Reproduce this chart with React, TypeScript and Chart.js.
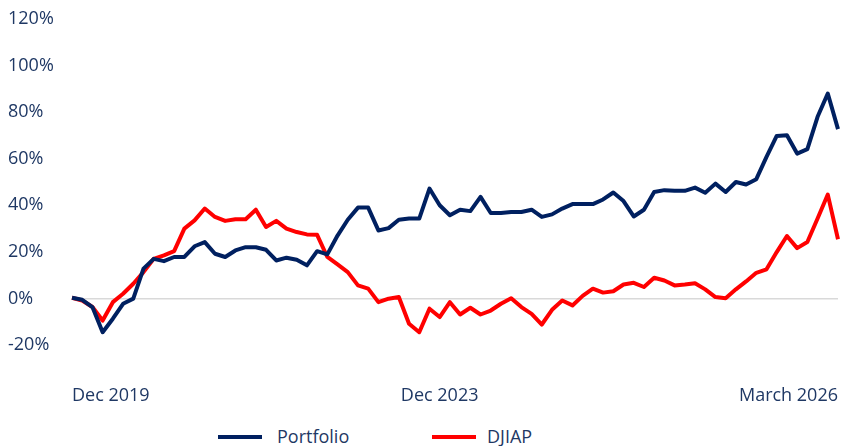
import React, { useEffect, useRef } from "react";
import { Chart, registerables } from "chart.js";

Chart.register(...registerables);

const seriesNames = ["Portfolio", "DJIAP"];
const seriesColors = ["#002060", "#ff0000"];

const portfolio = [
  0.3, -0.6, -3.7, -14.5, -8.7, -2.3, -0.1, 12.8, 17, 16, 17.8, 17.8, 22.4, 24.2, 19.2, 17.8,
  20.6, 22, 22, 20.9, 16.3, 17.5, 16.6, 14.2, 20.3, 18.9, 27, 33.8, 39, 39, 29.2, 30.2,
  33.8, 34.3, 34.3, 47.2, 40, 35.7, 38.1, 37.5, 43.6, 36.7, 36.7, 37.1, 37.1, 38.1, 35, 36.1,
  38.6, 40.5, 40.5, 40.5, 42.5, 45.5, 41.8, 35.2, 38.1, 45.7, 46.5, 46.2, 46.2, 47.6, 45.4, 49.3,
  45.7, 50, 48.9, 51.2, 60.8, 69.8, 70.1, 62.2, 64.1, 78, 88, 72.7,
];

const djiap = [
  0.3, -0.9, -3.7, -9.5, -1.6, 2, 6.3, 11.3, 17, 18.5, 20.3, 30, 33.5, 38.6, 35, 33.3,
  34, 34, 38.1, 30.7, 33.3, 30, 28.5, 27.5, 27.3, 17.8, 14.6, 11.3, 5.6, 4.2, -1.6, -0.1,
  0.6, -10.9, -14.5, -4.4, -8, -1.6, -6.9, -4, -6.9, -5.2, -2.3, 0.1, -3.7, -6.6, -11.2, -4.9,
  -0.9, -3, 1.1, 4.2, 2.5, 3.1, 6, 6.7, 4.9, 8.9, 7.7, 5.6, 6, 6.5, 3.9, 0.6,
  0.1, 3.9, 7.3, 11, 12.5, 19.9, 26.8, 21.6, 24.2, 34.3, 44.6, 25.4,
];

const xTickIndex = [0, 36, 75];
const xTickLabels = ["Dec 2019", "Dec 2023", "March 2026"];
const yTicks = [-20, 0, 20, 40, 60, 80, 100, 120];

const FONT = "'Open Sans', sans-serif";
const TEXT = "#1f3864";

export default function App() {
  const ref = useRef<HTMLCanvasElement | null>(null);

  useEffect(() => {
    if (!ref.current) return;
    const labels = portfolio.map((_, i) => {
      const k = xTickIndex.indexOf(i);
      return k >= 0 ? xTickLabels[k] : "";
    });
    const chart = new Chart(ref.current, {
      type: "line",
      data: {
        labels,
        datasets: [
          { label: seriesNames[0], data: portfolio, borderColor: seriesColors[0], backgroundColor: seriesColors[0] },
          { label: seriesNames[1], data: djiap, borderColor: seriesColors[1], backgroundColor: seriesColors[1] },
        ].map((d) => ({
          ...d,
          borderWidth: 4,
          pointRadius: 0,
          tension: 0,
          borderJoinStyle: "round" as const,
          fill: false,
        })),
      },
      options: {
        animation: false,
        responsive: false,
        maintainAspectRatio: false,
        layout: { padding: { left: 8, right: 8, top: 19, bottom: 0 } },
        plugins: { legend: { display: false }, tooltip: { enabled: false } },
        scales: {
          x: {
            offset: false,
            grid: { display: false, drawTicks: false },
            border: { display: false },
            ticks: {
              autoSkip: false,
              maxRotation: 0,
              minRotation: 0,
              align: "inner",
              padding: 40,
              color: TEXT,
              font: { family: FONT, size: 18 },
              callback: (_v: any, i: number) => labels[i],
            },
            afterFit: (s: any) => {
              s.height = 75;
              s.paddingLeft = 0;
              s.paddingRight = 0;
            },
          },
          y: {
            min: yTicks[0],
            max: yTicks[yTicks.length - 1],
            afterBuildTicks: (s: any) => {
              s.ticks = yTicks.map((v) => ({ value: v }));
            },
            grid: {
              drawTicks: false,
              color: (c: any) => (c.tick && c.tick.value === 0 ? "#d9d9d9" : "rgba(0,0,0,0)"),
              lineWidth: 1.5,
            },
            border: { display: false },
            ticks: {
              crossAlign: "far",
              padding: 0,
              color: TEXT,
              font: { family: FONT, size: 18 },
              callback: (v: any) => `${v}%`,
            },
            afterFit: (s: any) => {
              s.width = 64;
            },
          },
        },
      },
    });
    return () => chart.destroy();
  }, []);

  const legendPos = [
    { line: 218, text: 277 },
    { line: 432, text: 487 },
  ];

  return (
    <div style={{ position: "fixed", left: 0, top: 0, width: 846, height: 446, background: "#fff", overflow: "hidden" }}>
      <canvas ref={ref} width={846} height={420} style={{ position: "absolute", left: 0, top: 0, width: 846, height: 420 }} />
      {seriesNames.map((name, i) => (
        <React.Fragment key={name}>
          <div
            style={{
              position: "absolute",
              left: legendPos[i].line,
              top: 435,
              width: 44,
              height: 4,
              background: seriesColors[i],
            }}
          />
          <div
            style={{
              position: "absolute",
              left: legendPos[i].text,
              top: 424,
              fontFamily: FONT,
              fontSize: 18,
              lineHeight: "24px",
              color: TEXT,
              whiteSpace: "nowrap",
            }}
          >
            {name}
          </div>
        </React.Fragment>
      ))}
    </div>
  );
}
